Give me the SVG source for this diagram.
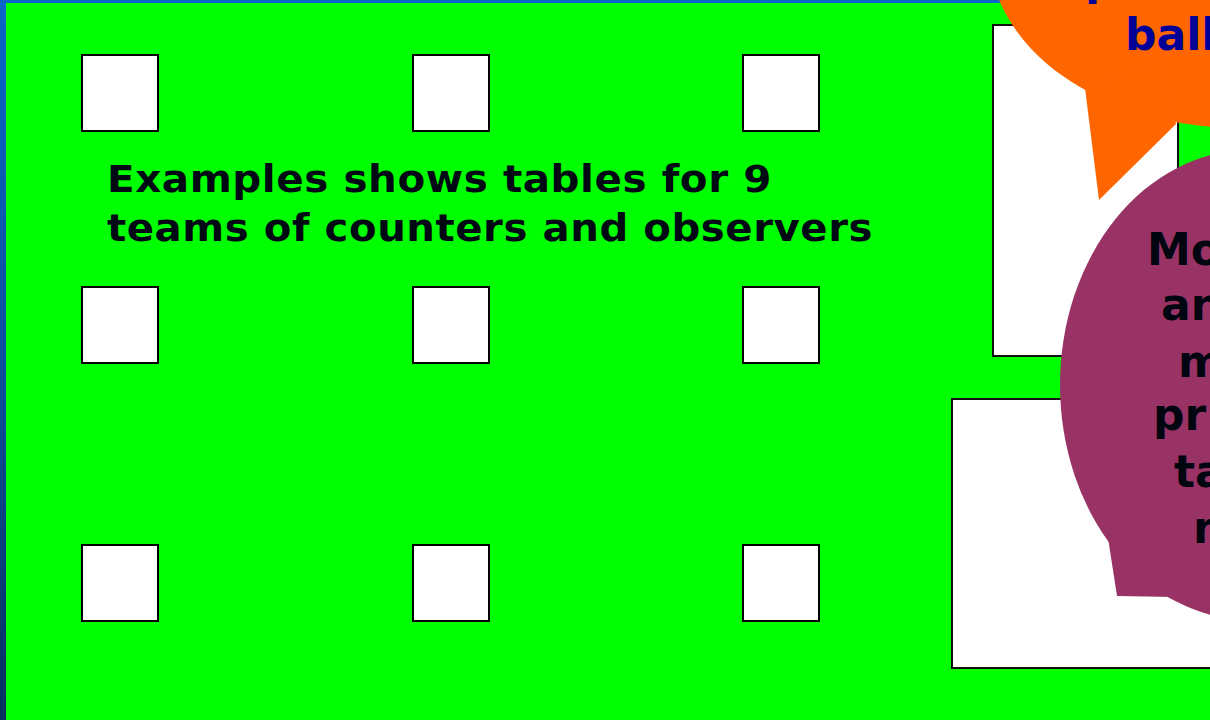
<svg xmlns="http://www.w3.org/2000/svg" width="1210" height="720" viewBox="0 0 1210 720">
  <defs>
    <linearGradient id="edge" x1="0" y1="0" x2="0" y2="1">
      <stop offset="0" stop-color="#0a66c8"/>
      <stop offset="0.5" stop-color="#0a4f9e"/>
      <stop offset="1" stop-color="#03305f"/>
    </linearGradient>
  </defs>
  <style>
    .tbl { fill: #ffffff; stroke: #000000; stroke-width: 2; }
    .big { fill: #ffffff; stroke: #111111; stroke-width: 2; }
    .lbl { font-family: "DejaVu Sans", Verdana, sans-serif; font-weight: bold; font-size: 37px; letter-spacing: 0.5px; fill: #000814; }
    .orange { fill: #ff6600; }
    .maroon { fill: #993366; }
    .otxt { font-family: "DejaVu Sans", Verdana, sans-serif; font-weight: bold; font-size: 44px; fill: #000099; }
    .mtxt { font-family: "DejaVu Sans", Verdana, sans-serif; font-weight: bold; font-size: 44px; fill: #00050f; }
  </style>
  <rect x="0" y="0" width="1210" height="720" fill="url(#edge)"/>
  <rect x="6" y="3" width="1204" height="717" fill="#00ff00"/>

  <g id="table-1"><rect class="tbl" x="82" y="55" width="76" height="76"/></g>
  <g id="table-2"><rect class="tbl" x="413" y="55" width="76" height="76"/></g>
  <g id="table-3"><rect class="tbl" x="743" y="55" width="76" height="76"/></g>
  <g id="table-4"><rect class="tbl" x="82" y="287" width="76" height="76"/></g>
  <g id="table-5"><rect class="tbl" x="413" y="287" width="76" height="76"/></g>
  <g id="table-6"><rect class="tbl" x="743" y="287" width="76" height="76"/></g>
  <g id="table-7"><rect class="tbl" x="82" y="545" width="76" height="76"/></g>
  <g id="table-8"><rect class="tbl" x="413" y="545" width="76" height="76"/></g>
  <g id="table-9"><rect class="tbl" x="743" y="545" width="76" height="76"/></g>

  <g id="caption">
    <text class="lbl" x="107" y="192" textLength="665" lengthAdjust="spacingAndGlyphs">Examples shows tables for 9</text>
    <text class="lbl" x="107" y="241" textLength="766" lengthAdjust="spacingAndGlyphs">teams of counters and observers</text>
  </g>

  <g id="box-upper"><rect class="big" x="993" y="25" width="185" height="331"/></g>
  <g id="box-lower"><rect class="big" x="952" y="399" width="270" height="269"/></g>

  <g id="callout-orange">
    <ellipse class="orange" cx="1240" cy="-50" rx="251" ry="178"/>
    <polygon class="orange" points="1085,88 1099,200 1176,124 1160,60"/>
    <text class="otxt" x="1085" y="-5">p</text>
    <text class="otxt" x="1125" y="50">ball</text>
  </g>

  <g id="callout-maroon">
    <ellipse class="maroon" cx="1250" cy="385" rx="190" ry="235"/>
    <polygon class="maroon" points="1106,525 1117,596 1175,597 1220,500"/>
    <text class="mtxt" x="1147" y="265">Mo</text>
    <text class="mtxt" x="1161" y="320">an</text>
    <text class="mtxt" x="1178" y="377">m</text>
    <text class="mtxt" x="1153" y="430">pr</text>
    <text class="mtxt" x="1174" y="487">ta</text>
    <text class="mtxt" x="1193" y="543">n</text>
  </g>
</svg>
